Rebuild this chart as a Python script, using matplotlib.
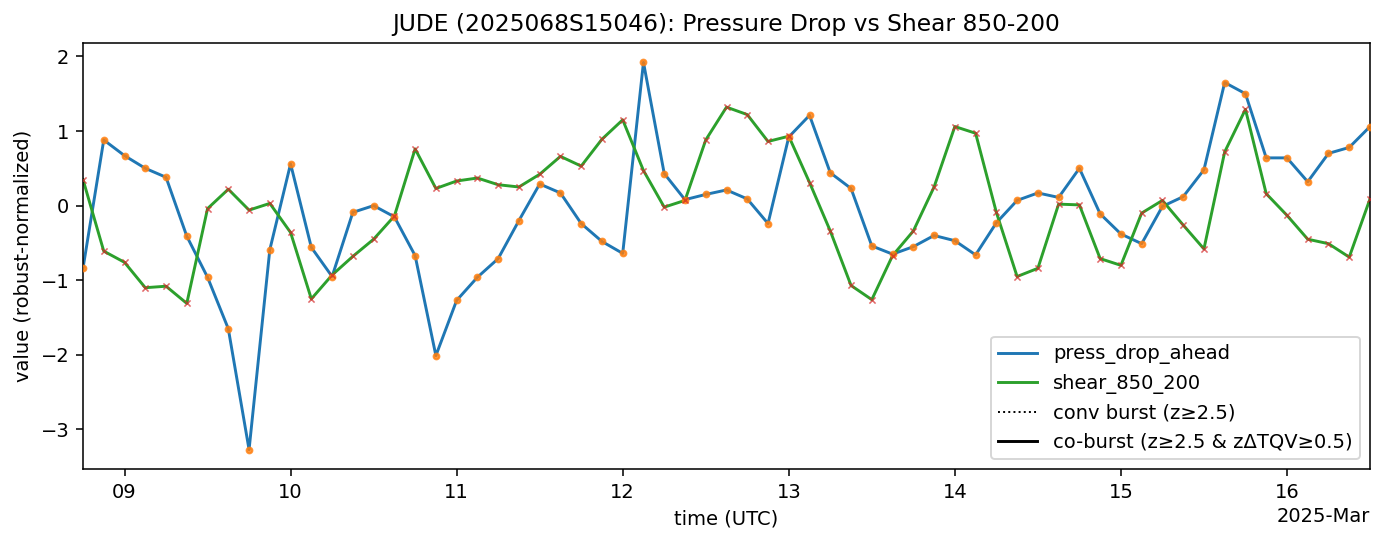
import numpy as np
import pandas as pd
import matplotlib
matplotlib.use("Agg")
import matplotlib.pyplot as plt
import matplotlib.dates as mdates
from matplotlib.lines import Line2D

start = "2025-03-08 18:00"
freq = "3h"

press_drop_ahead = [
    -0.84, 0.88, 0.67, 0.50, 0.38, -0.41, -0.96, -1.65, -3.27, -0.59,
    0.56, -0.56, -0.95, -0.09, 0.00, -0.15, -0.67, -2.01, -1.27, -0.96,
    -0.71, -0.20, 0.29, 0.17, -0.24, -0.48, -0.64, 1.92, 0.43, 0.08,
    0.15, 0.21, 0.09, -0.24, 0.92, 1.21, 0.44, 0.23, -0.54, -0.65,
    -0.55, -0.40, -0.47, -0.66, -0.23, 0.07, 0.17, 0.11, 0.50, -0.11,
    -0.38, -0.51, -0.01, 0.12, 0.48, 1.65, 1.50, 0.64, 0.64, 0.32,
    0.70, 0.78, 1.06,
]
shear_850_200 = [
    0.35, -0.61, -0.76, -1.10, -1.08, -1.31, -0.04, 0.22, -0.06, 0.03,
    -0.36, -1.25, -0.93, -0.68, -0.45, -0.14, 0.76, 0.23, 0.33, 0.37,
    0.28, 0.25, 0.42, 0.66, 0.53, 0.89, 1.15, 0.47, -0.02, 0.07,
    0.88, 1.32, 1.22, 0.86, 0.93, 0.31, -0.34, -1.07, -1.26, -0.67,
    -0.34, 0.25, 1.06, 0.97, -0.09, -0.95, -0.84, 0.02, 0.01, -0.71,
    -0.80, -0.10, 0.07, -0.26, -0.58, 0.72, 1.29, 0.16, -0.13, -0.45,
    -0.51, -0.69, 0.09,
]

times = pd.date_range(start, periods=len(press_drop_ahead), freq=freq)

DPI = 140
fig, ax = plt.subplots(figsize=(1385 / DPI, 543 / DPI), dpi=DPI)
fig.subplots_adjust(left=83 / 1385, right=1370 / 1385, top=1 - 43 / 543, bottom=1 - 469 / 543)

ax.plot(times, press_drop_ahead, color="#1f77b4", lw=1.5, label="press_drop_ahead")
ax.plot(times, shear_850_200, color="#2ca02c", lw=1.5, label="shear_850_200")
ax.scatter(times, press_drop_ahead, s=9, color="#ff7f0e", alpha=0.8, zorder=3)
ax.scatter(times, shear_850_200, s=10, marker="x", color="#d62728", alpha=0.7, lw=0.8, zorder=3)

ax.set_xlim(times[0], times[-1])
loc = mdates.DayLocator()
ax.xaxis.set_major_locator(loc)
ax.xaxis.set_major_formatter(mdates.ConciseDateFormatter(loc))

ax.set_title("JUDE (2025068S15046): Pressure Drop vs Shear 850-200")
ax.set_xlabel("time (UTC)")
ax.set_ylabel("value (robust-normalized)")

handles = [
    Line2D([], [], color="#1f77b4", lw=1.5),
    Line2D([], [], color="#2ca02c", lw=1.5),
    Line2D([], [], color="black", lw=1.0, ls=":"),
    Line2D([], [], color="black", lw=1.5),
]
labels = ["press_drop_ahead", "shear_850_200", "conv burst (z≥2.5)",
          "co-burst (z≥2.5 & zΔTQV≥0.5)"]
ax.legend(handles, labels, loc="lower right")

fig.savefig("out.png", dpi=DPI)
